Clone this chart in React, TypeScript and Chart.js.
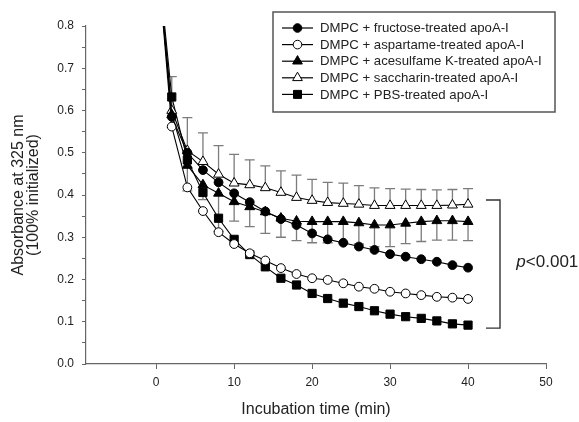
import React, { useEffect, useRef } from 'react';
import { Chart, registerables } from 'chart.js';

Chart.register(...registerables);

// ---- data ----
const times = [0, 2, 4, 6, 8, 10, 12, 14, 16, 18, 20, 22, 24, 26, 28, 30, 32, 34, 36, 38, 40];
const fructose = [1.0, 0.585, 0.5, 0.459, 0.43, 0.404, 0.383, 0.361, 0.343, 0.329, 0.309, 0.295, 0.287, 0.278, 0.27, 0.26, 0.254, 0.248, 0.242, 0.234, 0.228];
const aspartame = [1.0, 0.562, 0.418, 0.362, 0.312, 0.284, 0.262, 0.245, 0.227, 0.213, 0.203, 0.199, 0.191, 0.183, 0.178, 0.171, 0.167, 0.163, 0.159, 0.157, 0.154];
const acesulfame = [1.0, 0.59, 0.47, 0.424, 0.404, 0.384, 0.372, 0.36, 0.345, 0.338, 0.337, 0.337, 0.337, 0.334, 0.329, 0.329, 0.333, 0.337, 0.339, 0.339, 0.337];
const saccharin = [1.0, 0.6, 0.505, 0.479, 0.449, 0.428, 0.424, 0.417, 0.406, 0.394, 0.387, 0.382, 0.38, 0.378, 0.375, 0.375, 0.375, 0.375, 0.375, 0.376, 0.378];
const pbs = [1.0, 0.632, 0.483, 0.406, 0.345, 0.295, 0.259, 0.23, 0.203, 0.187, 0.167, 0.155, 0.144, 0.136, 0.126, 0.118, 0.112, 0.108, 0.102, 0.095, 0.092];
const saccharinErrUp = [0, 0.08, 0.078, 0.068, 0.068, 0.068, 0.059, 0.052, 0.051, 0.053, 0.05, 0.048, 0.048, 0.044, 0.042, 0.04, 0.039, 0.038, 0.037, 0.037, 0.037];
const acesulfameErrDown = [0, 0.03, 0.06, 0.035, 0.09, 0.046, 0.047, 0.051, 0.045, 0.046, 0.05, 0.05, 0.05, 0.05, 0.051, 0.051, 0.048, 0.047, 0.046, 0.046, 0.045];

const seriesNames = [
  'DMPC + fructose-treated apoA-I',
  'DMPC + aspartame-treated apoA-I',
  'DMPC + acesulfame K-treated apoA-I',
  'DMPC + saccharin-treated apoA-I',
  'DMPC + PBS-treated apoA-I',
];
const xTickValues = [0, 10, 20, 30, 40, 50];
const xTitle = 'Incubation time (min)';
const yTitle = ['Absorbance at 325 nm', '(100% initialized)'];
const bracketX = [42.3, 44.1];
const bracketY = [0.388, 0.085];
const pLabelPos = [46.2, 0.24];

const FONT = "'Liberation Sans', Arial, Helvetica, sans-serif";

type MarkerKind = 'circle' | 'triangle' | 'rect';
const markerKinds: MarkerKind[] = ['circle', 'circle', 'triangle', 'triangle', 'rect'];
const markerFilled = [true, false, true, false, true];

function toPoints(vals: number[]) {
  return times.map((t, i) => ({ x: t, y: vals[i] }));
}

function drawMarker(ctx: CanvasRenderingContext2D, kind: MarkerKind, filled: boolean, x: number, y: number) {
  ctx.beginPath();
  if (kind === 'circle') {
    ctx.arc(x, y, 4.3, 0, Math.PI * 2);
  } else if (kind === 'triangle') {
    const r = 5.6;
    for (let k = 0; k < 3; k++) {
      const a = (k * 2 * Math.PI) / 3;
      const px = x + Math.sin(a) * r;
      const py = y - Math.cos(a) * r;
      if (k === 0) ctx.moveTo(px, py);
      else ctx.lineTo(px, py);
    }
    ctx.closePath();
  } else {
    ctx.rect(x - 4, y - 4, 8, 8);
  }
  ctx.fillStyle = filled ? '#000' : '#fff';
  ctx.fill();
  ctx.strokeStyle = '#000';
  ctx.lineWidth = 1;
  ctx.stroke();
}

const errorBarPlugin = {
  id: 'errorBars',
  beforeDatasetsDraw(chart: any) {
    const { ctx, chartArea } = chart;
    const xs = chart.scales.x;
    const ys = chart.scales.y;
    ctx.save();
    ctx.beginPath();
    ctx.rect(chartArea.left, chartArea.top, chartArea.right - chartArea.left, chartArea.bottom - chartArea.top);
    ctx.clip();
    ctx.strokeStyle = '#7c7c7c';
    ctx.lineWidth = 1.3;
    const cap = 5;
    const draw = (vals: number[], errs: number[], dir: number) => {
      times.forEach((t, i) => {
        if (!errs[i]) return;
        const px = xs.getPixelForValue(t);
        const p0 = ys.getPixelForValue(vals[i]);
        const p1 = ys.getPixelForValue(vals[i] + dir * errs[i]);
        ctx.beginPath();
        ctx.moveTo(px, p0);
        ctx.lineTo(px, p1);
        ctx.moveTo(px - cap, p1);
        ctx.lineTo(px + cap, p1);
        ctx.stroke();
      });
    };
    draw(saccharin, saccharinErrUp, 1);
    draw(acesulfame, acesulfameErrDown, -1);
    ctx.restore();
  },
};

const annotationPlugin = {
  id: 'annotations',
  afterDraw(chart: any) {
    const { ctx } = chart;
    const xs = chart.scales.x;
    const ys = chart.scales.y;
    ctx.save();
    // bracket
    const bx0 = xs.getPixelForValue(bracketX[0]);
    const bx1 = xs.getPixelForValue(bracketX[1]);
    const by0 = ys.getPixelForValue(bracketY[0]);
    const by1 = ys.getPixelForValue(bracketY[1]);
    ctx.strokeStyle = '#333';
    ctx.lineWidth = 1.4;
    ctx.beginPath();
    ctx.moveTo(bx0, by0);
    ctx.lineTo(bx1, by0);
    ctx.lineTo(bx1, by1);
    ctx.lineTo(bx0, by1);
    ctx.stroke();
    // p-value label
    const tx = xs.getPixelForValue(pLabelPos[0]);
    const ty = ys.getPixelForValue(pLabelPos[1]);
    ctx.fillStyle = '#222';
    ctx.textBaseline = 'middle';
    ctx.textAlign = 'left';
    ctx.font = `italic 17px ${FONT}`;
    ctx.fillText('p', tx, ty);
    const pw = ctx.measureText('p').width;
    ctx.font = `17px ${FONT}`;
    ctx.fillText('<0.001', tx + pw, ty);

    // legend
    const bx = 273, byTop = 12, bw = 282, bh = 100;
    ctx.fillStyle = '#fff';
    ctx.fillRect(bx, byTop, bw, bh);
    ctx.strokeStyle = '#555';
    ctx.lineWidth = 1.5;
    ctx.strokeRect(bx, byTop, bw, bh);
    ctx.font = `13.2px ${FONT}`;
    ctx.textBaseline = 'middle';
    seriesNames.forEach((name, i) => {
      const rowY = 28 + i * 16.6;
      ctx.strokeStyle = '#000';
      ctx.lineWidth = 1.2;
      ctx.beginPath();
      ctx.moveTo(282, rowY);
      ctx.lineTo(313, rowY);
      ctx.stroke();
      drawMarker(ctx, markerKinds[i], markerFilled[i], 297.5, rowY);
      ctx.fillStyle = '#222';
      ctx.fillText(name, 320, rowY + 0.5);
    });
    ctx.restore();
  },
};

export default function App() {
  const canvasRef = useRef<HTMLCanvasElement | null>(null);

  useEffect(() => {
    if (!canvasRef.current) return;
    const seriesVals = [fructose, aspartame, acesulfame, saccharin, pbs];
    const chart = new Chart(canvasRef.current, {
      type: 'line',
      data: {
        datasets: seriesVals.map((vals, i) => ({
          label: seriesNames[i],
          data: toPoints(vals),
          borderColor: '#000',
          borderWidth: 1.1,
          backgroundColor: markerFilled[i] ? '#000' : '#fff',
          pointBackgroundColor: markerFilled[i] ? '#000' : '#fff',
          pointBorderColor: '#000',
          pointBorderWidth: 1,
          pointStyle: markerKinds[i],
          pointRadius: markerKinds[i] === 'circle' ? 4.4 : markerKinds[i] === 'triangle' ? 5.7 : 5.8,
          pointHoverRadius: markerKinds[i] === 'circle' ? 4.4 : 5.7,
          tension: 0,
          fill: false,
        })),
      },
      options: {
        animation: false,
        responsive: true,
        maintainAspectRatio: false,
        events: [],
        layout: { padding: { top: 26, right: 33, left: 0, bottom: 0 } },
        plugins: {
          legend: { display: false },
          tooltip: { enabled: false },
        },
        scales: {
          x: {
            type: 'linear',
            min: -9,
            max: 50,
            afterBuildTicks: (s: any) => {
              s.ticks = xTickValues.map((v) => ({ value: v }));
            },
            afterFit: (s: any) => {
              s.height = 58;
            },
            ticks: {
              font: { family: FONT, size: 12 },
              color: '#222',
              padding: 6,
              maxRotation: 0,
              autoSkip: false,
              callback: (v: any) => String(v),
            },
            grid: {
              drawOnChartArea: false,
              drawTicks: true,
              tickLength: 5,
              color: '#666',
            },
            border: { display: true, color: '#666', width: 1.2 },
            title: {
              display: true,
              text: xTitle,
              font: { family: FONT, size: 16 },
              color: '#222',
              padding: { top: 0, bottom: 3 },
            },
          },
          y: {
            type: 'linear',
            min: 0,
            max: 0.8,
            afterFit: (s: any) => {
              s.width = 86;
            },
            ticks: {
              stepSize: 0.05,
              font: { family: FONT, size: 12 },
              color: '#222',
              padding: 8,
              autoSkip: false,
              callback: (v: any) => {
                const r = Math.round(v * 100);
                return r % 10 === 0 ? (r / 100).toFixed(1) : '';
              },
            },
            grid: {
              drawOnChartArea: false,
              drawTicks: true,
              tickLength: 4,
              color: '#666',
            },
            border: { display: true, color: '#666', width: 1.2 },
            title: {
              display: true,
              text: yTitle,
              font: { family: FONT, size: 16, lineHeight: 0.95 },
              color: '#222',
              padding: { top: 11, bottom: 0 },
            },
          },
        },
      },
      plugins: [errorBarPlugin, annotationPlugin],
    } as any);
    return () => chart.destroy();
  }, []);

  return (
    <div style={{ position: 'fixed', left: 0, top: 0, width: 579, height: 422, background: '#fff' }}>
      <canvas ref={canvasRef} />
    </div>
  );
}
